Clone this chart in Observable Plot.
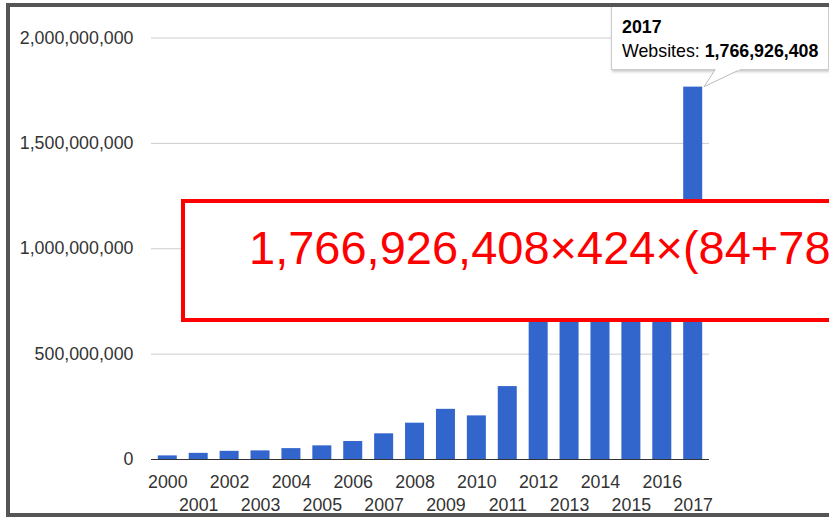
<!DOCTYPE html>
<html>
<head>
<meta charset="utf-8">
<script src="https://cdn.jsdelivr.net/npm/d3@7"></script>
<script src="https://cdn.jsdelivr.net/npm/@observablehq/plot@0.6"></script>
<style>
  html, body { margin: 0; padding: 0; background: #fff; overflow: hidden; }
  #wrap { position: relative; width: 829px; height: 517px; overflow: hidden; background: #fff; }
  #wrap svg { position: absolute; left: 0; top: 0; }
</style>
</head>
<body>
<div id="wrap"></div>
<script>
const years = ["2000","2001","2002","2003","2004","2005","2006","2007","2008","2009","2010","2011","2012","2013","2014","2015","2016","2017"];
const websites = [17087182, 29254370, 38760373, 40912332, 51611646, 64780617, 85507314, 121892559, 172338726, 238027855, 206956723, 346004403, 697089489, 672985183, 968882453, 863105652, 1045534808, 1766926408];
const yTicks = [0, 500000000, 1000000000, 1500000000, 2000000000];
const tipYear = "2017";
const tipLabel = "Websites: ";
const overlayText = "1,766,926,408×424×(84+78)";

const data = years.map((year, i) => ({year, value: websites[i]}));
const fmt = d3.format(",");
const font = '"Liberation Sans", Arial, Helvetica, sans-serif';

const chart = Plot.plot({
  width: 829,
  height: 517,
  marginLeft: 151,
  marginRight: 120,
  marginTop: 37.5,
  marginBottom: 58,
  style: {fontFamily: font, fontSize: "17.8px", color: "#333", background: "transparent"},
  x: {domain: years, paddingInner: 0.385, paddingOuter: 0.22, round: false, label: null},
  y: {domain: [0, 2000000000], label: null},
  marks: [
    Plot.gridY(yTicks, {stroke: "#cccccc", strokeOpacity: 1}),
    Plot.barY(data, {x: "year", y: "value", fill: "#3366cc"}),
    Plot.ruleY([0], {stroke: "#333", strokeWidth: 1.2}),
    Plot.axisY(yTicks, {tickSize: 0, tickPadding: 18, tickFormat: fmt, label: null}),
    Plot.axisX(years.filter((d, i) => i % 2 === 0), {tickSize: 0, tickPadding: 15.4, label: null}),
    Plot.axisX(years.filter((d, i) => i % 2 === 1), {tickSize: 0, tickPadding: 38.7, label: null})
  ]
});
document.getElementById("wrap").appendChild(chart);

const svg = d3.select(chart);
const xs = chart.scale("x"), ys = chart.scale("y");
const idx = years.indexOf(tipYear);
const tipX = xs.apply(tipYear) + xs.bandwidth;
const tipY = ys.apply(websites[idx]);

const defs = svg.append("defs");
const f = defs.append("filter").attr("id", "sh").attr("x", "-10%").attr("y", "-10%").attr("width", "130%").attr("height", "150%");
f.append("feDropShadow").attr("dx", 1).attr("dy", 1.5).attr("stdDeviation", 1.5).attr("flood-color", "#000").attr("flood-opacity", 0.25);

const g = svg.append("g").style("font-family", font).attr("text-anchor", "start");

// red overlay box
g.append("rect").attr("x", 183).attr("y", 201).attr("width", 800).attr("height", 119)
  .attr("fill", "#fff").attr("stroke", "#ff0000").attr("stroke-width", 4);
g.append("text").attr("x", 249).attr("y", 263.5).attr("fill", "#ff0000").attr("text-anchor", "start")
  .style("font-size", "47px").text(overlayText);

// tooltip
const tt = g.append("g");
tt.append("rect").attr("x", 611.5).attr("y", 6.5).attr("width", 217).attr("height", 63)
  .attr("fill", "#fff").attr("stroke", "#cccccc").attr("filter", "url(#sh)");
tt.append("path").attr("d", `M${tipX + 13},69.5 L${tipX + 2},${tipY} L${tipX + 38},69.5`)
  .attr("fill", "#fff").attr("stroke", "#bbbbbb").attr("stroke-width", 1);
tt.append("line").attr("x1", tipX + 13.5).attr("x2", tipX + 37.5).attr("y1", 69.5).attr("y2", 69.5)
  .attr("stroke", "#fff").attr("stroke-width", 1.5);
tt.append("text").attr("x", 622).attr("y", 33.3).attr("fill", "#000").attr("text-anchor", "start")
  .style("font-size", "17.8px").style("font-weight", "bold").text(tipYear);
const t2 = tt.append("text").attr("x", 622).attr("y", 56.7).attr("fill", "#000").attr("text-anchor", "start").style("font-size", "17.8px");
t2.append("tspan").text(tipLabel);
t2.append("tspan").style("font-weight", "bold").text(fmt(websites[idx]));

// outer frame
const fr = g.append("g").attr("stroke", "#555555").attr("stroke-width", 4).attr("fill", "none");
fr.append("path").attr("d", "M8,3 L8,517");
fr.append("path").attr("d", "M6,5 L829,5");
fr.append("path").attr("d", "M6,515 L829,515");
</script>
</body>
</html>
